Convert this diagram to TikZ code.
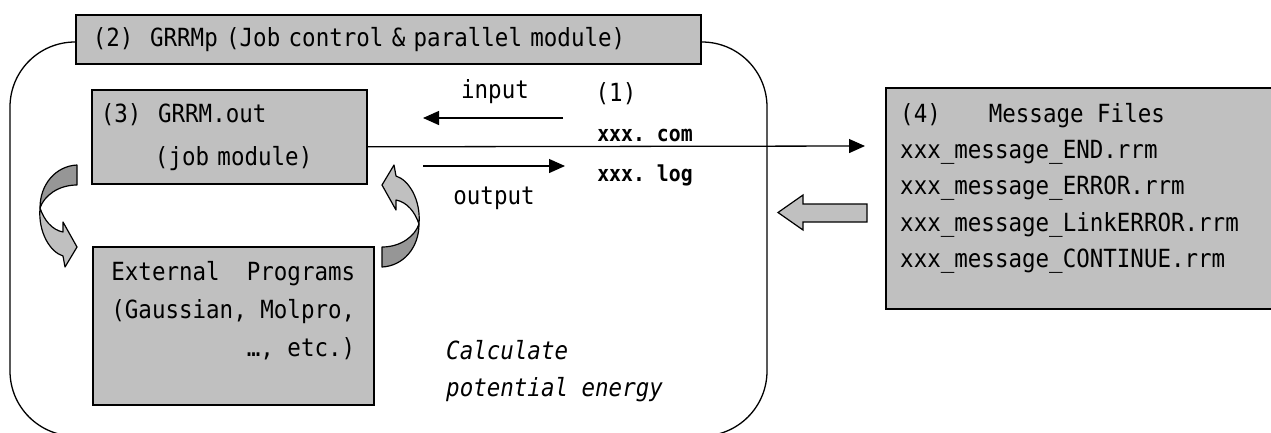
\documentclass[tikz,border=0pt]{standalone}
\usepackage{fontspec}
\setmonofont[FakeStretch=0.9]{DejaVu Sans Mono}
\usetikzlibrary{arrows.meta,positioning}

\definecolor{boxgray}{HTML}{C0C0C0}
\definecolor{backgray}{HTML}{969696}

\tikzset{
	graybox/.style={draw,line width=1.6pt,fill=boxgray},
	monotext/.style={font=\ttfamily\fontsize{25}{38}\selectfont,inner sep=0pt},
	flow/.style={line width=1.3pt,-{Triangle[length=16pt,width=14pt]}},
}

% twisted block arrow, drawn round its own centre
\newcommand{\twistarrow}{%
	\filldraw[fill=backgray,line width=1.2pt,line join=round] (19,-51) .. controls (-2,-50) and (-18,-32) .. (-18,-8) .. controls (-14,-20) and (0,-31) .. (19,-31) -- cycle;
	\filldraw[fill=boxgray,line width=1.2pt,line join=round] (-18,-8) .. controls (-14,4) and (-6,14) .. (5,16) -- (5,6) -- (19,31) -- (7,51) -- (5,40) .. controls (-8,36) and (-20,16) .. (-18,-8) -- cycle;
}

\begin{document}
\begin{tikzpicture}[x=1pt,y=-1pt]
	\useasboundingbox (0,0) rectangle (1271,432);

	% parallel module frame
	\draw[line width=1.3pt,rounded corners=65pt] (10,42) rectangle (767,436);

	\node[graybox,monotext,anchor=north west,minimum height=49pt,text width=591pt,inner xsep=17pt,align=left] (grrmp) at (75,14) {(2)\ \ GRRMp (Job control \& parallel module)};

	\node[graybox,monotext,anchor=north west,minimum height=94pt,text width=257pt,inner xsep=9pt,align=left,font=\ttfamily\fontsize{25}{43}\selectfont] (grrmout) at (91,89) {(3)\ \ GRRM.out\\\phantom{xxxx}(job module)};

	\node[graybox,anchor=north west,minimum width=281pt,minimum height=158pt] (extprog) at (92,246) {};
	\node[monotext,align=right] (exttext) at ([yshift=15pt]extprog.center) {External\ \ Programs\\(Gaussian, Molpro,\\…, etc.)};

	\node[graybox,anchor=north west,minimum width=390pt,minimum height=221pt] (msgfiles) at (885,87) {};
	\node[monotext,align=left,anchor=west,font=\ttfamily\fontsize{25}{36.2}\selectfont] (msgtext) at ([xshift=15pt,yshift=10pt]msgfiles.west) {(4)\hspace{48pt}Message Files\\xxx\_message\_END.rrm\\xxx\_message\_ERROR.rrm\\xxx\_message\_LinkERROR.rrm\\xxx\_message\_CONTINUE.rrm};

	% files read and written by the job module
	\node[monotext] (inlabel) at (495,92) {input};
	\node[monotext] (filenum) at (616,94) {(1)};
	\node[monotext,font=\ttfamily\bfseries\fontsize{22}{24}\selectfont] (comfile) at (645,135) {xxx. com};
	\node[monotext,font=\ttfamily\bfseries\fontsize{22}{24}\selectfont] (logfile) at (645,175) {xxx. log};
	\node[monotext] (outlabel) at (494,198) {output};
	\node[monotext,align=left,anchor=west,font=\ttfamily\itshape\fontsize{25}{37}\selectfont] (calctext) at (446,371.5) {Calculate\\potential energy};

	\coordinate (inR) at (563,118);
	\coordinate (inL) at (423,118);
	\coordinate (outL) at (423,166);
	\coordinate (outR) at (565,166);
	\coordinate (msgtip) at (865,146);
	\draw[flow] (inR) -- (inL);
	\draw[flow] (outL) -- (outR);
	\draw[flow] ([yshift=-10pt]grrmout.east) -- (msgtip);

	% message files go back to GRRMp
	\filldraw[fill=boxgray,line width=1.2pt] (867,204) -- (803,204) -- (803,195) -- (778,212.5) -- (803,230) -- (803,222) -- (867,222) -- cycle;

	\begin{scope}[shift={(58,216)}]
		\twistarrow
	\end{scope}
	\begin{scope}[shift={(401,216)},rotate=180]
		\twistarrow
	\end{scope}
\end{tikzpicture}
\end{document}
